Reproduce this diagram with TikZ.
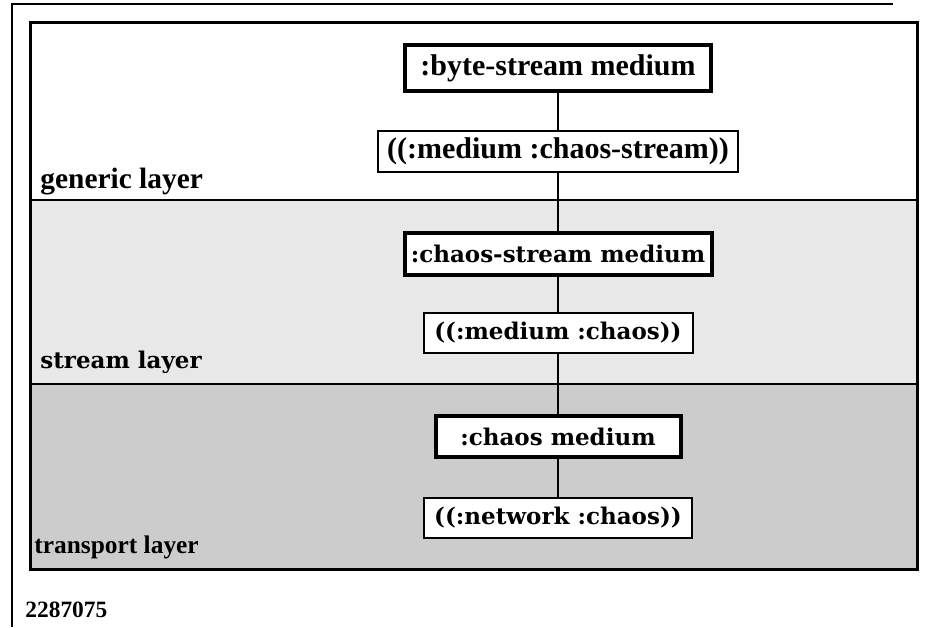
\documentclass[tikz,border=0pt]{standalone}
\usepackage{fontspec}
\setmainfont{Liberation Serif}
\newfontfamily\souv{DejaVu Serif}

\begin{document}
\begin{tikzpicture}[
    x=0.5pt,
    y=-0.5pt,
    narrow/.style={font=\fontsize{15}{18}\selectfont\bfseries},
    wide/.style={font=\souv\fontsize{11.5}{14}\selectfont\bfseries},
    medium/.style={
        draw,
        fill=white,
        line width=2pt,
        inner sep=0pt,
    },
    spec/.style={
        draw,
        fill=white,
        line width=1pt,
        inner sep=0pt,
    },
    layername/.style={anchor=base west, inner sep=0pt},
    ]
    \useasboundingbox (0,0) rectangle (927,627);
    % layers
    \fill[white] (30,22) rectangle (917,200);
    \fill[gray!18] (30,200) rectangle (917,384);
    \fill[gray!40] (30,384) rectangle (917,569);
    \draw[line width=0.8pt] (30,200) -- (917,200) (30,384) -- (917,384);
    \draw[line width=1.5pt] (30,22) rectangle (917,569);
    \draw[line width=1pt] (12,627) -- (12,4) -- (893,4);

    \node[medium,narrow,minimum width=153pt,minimum height=23pt] (byte) at (558,68) {:byte-stream medium};
    \node[spec,narrow,minimum width=180pt,minimum height=20.5pt] (bytespec) at (558,151) {((:medium :chaos-stream))};
    \node[medium,wide,minimum width=153.5pt,minimum height=21pt] (chstream) at (558,254) {:chaos-stream medium};
    \node[spec,wide,minimum width=134.5pt,minimum height=20pt] (chstreamspec) at (558,333) {((:medium :chaos))};
    \node[medium,wide,minimum width=122.5pt,minimum height=20.5pt] (chaos) at (558,436.5) {:chaos medium};
    \node[spec,wide,minimum width=134pt,minimum height=20pt] (chaosspec) at (558,518) {((:network :chaos))};

    \draw[line width=0.9pt] (byte) -- (bytespec) -- (chstream) -- (chstreamspec) -- (chaos) -- (chaosspec);

    \node[layername,font=\fontsize{14.7}{17}\selectfont\bfseries] (generic) at (40,188) {generic layer};
    \node[layername,wide] (stream) at (40,368) {stream layer};
    \node[layername,font=\fontsize{12.7}{15}\selectfont\bfseries] (transport) at (34,553) {transport layer};
    \node[layername,font=\fontsize{11.7}{14}\selectfont\bfseries] (number) at (25,617) {2287075};
\end{tikzpicture}
\end{document}
